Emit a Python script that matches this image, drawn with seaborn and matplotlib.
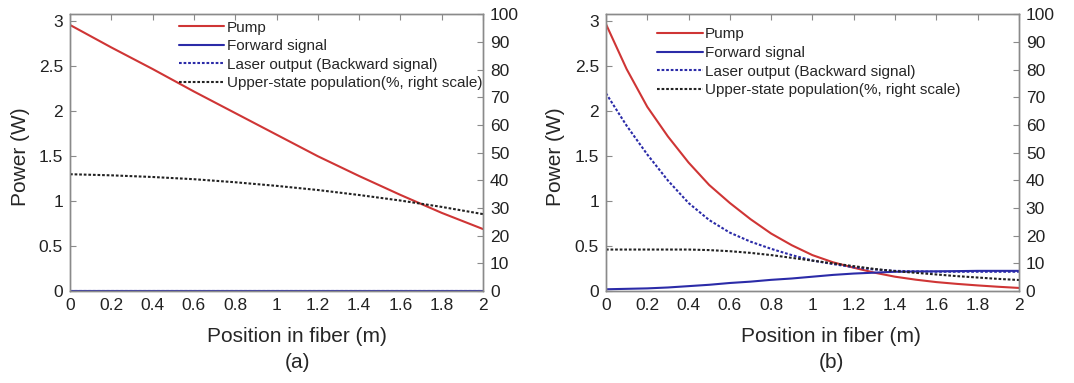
import matplotlib
matplotlib.use("Agg")
import matplotlib.pyplot as plt
import numpy as np
import pandas as pd
import seaborn as sns

# ---- data ----
pos_a = [0, 0.2, 0.4, 0.6, 0.8, 1.0, 1.2, 1.4, 1.6, 1.8, 2.0]
pump_a = [2.96, 2.71, 2.47, 2.22, 1.98, 1.74, 1.50, 1.28, 1.07, 0.87, 0.69]
forward_a = [0, 0, 0, 0, 0, 0, 0, 0, 0, 0, 0]
laser_a = [0, 0, 0, 0, 0, 0, 0, 0, 0, 0, 0]
upper_a = [42.2, 41.8, 41.2, 40.4, 39.3, 38.0, 36.5, 34.7, 32.7, 30.4, 27.8]

pos_b = [0, 0.1, 0.2, 0.3, 0.4, 0.5, 0.6, 0.7, 0.8, 0.9, 1.0,
         1.1, 1.2, 1.3, 1.4, 1.5, 1.6, 1.7, 1.8, 1.9, 2.0]
pump_b = [2.97, 2.47, 2.05, 1.72, 1.43, 1.18, 0.98, 0.80, 0.64, 0.51, 0.40,
          0.32, 0.26, 0.205, 0.16, 0.127, 0.10, 0.08, 0.063, 0.048, 0.035]
laser_b = [2.20, 1.84, 1.52, 1.23, 0.98, 0.79, 0.65, 0.55, 0.47, 0.40, 0.34,
           0.30, 0.265, 0.24, 0.225, 0.22, 0.215, 0.215, 0.215, 0.215, 0.215]
forward_b = [0.02, 0.025, 0.03, 0.04, 0.055, 0.07, 0.09, 0.105, 0.125, 0.14, 0.16,
             0.18, 0.195, 0.205, 0.215, 0.218, 0.22, 0.222, 0.225, 0.225, 0.225]
upper_b = [15.0, 15.0, 15.0, 15.0, 15.0, 14.8, 14.4, 13.8, 13.0, 12.0, 11.0,
           10.0, 9.0, 8.0, 7.2, 6.6, 6.0, 5.4, 4.9, 4.4, 4.0]

x_ticks = [0, 0.2, 0.4, 0.6, 0.8, 1, 1.2, 1.4, 1.6, 1.8, 2]
x_tick_labels = ["0", "0.2", "0.4", "0.6", "0.8", "1", "1.2", "1.4", "1.6", "1.8", "2"]
y_ticks = [0, 0.5, 1, 1.5, 2, 2.5, 3]
y_tick_labels = ["0", "0.5", "1", "1.5", "2", "2.5", "3"]
r_ticks = list(range(0, 101, 10))

labels = ["Pump", "Forward signal", "Laser output (Backward signal)",
          "Upper-state population(%, right scale)"]

RED = "#cf3535"
BLUE = "#2b2ba8"
BLACK = "#222222"
GRAY = "#8a8a8a"
DOT = (0, (1.3, 0.9))

sns.set_style("white")
plt.rcParams["font.family"] = ["Liberation Sans", "DejaVu Sans"]

fig = plt.figure(figsize=(10.74, 3.83), dpi=100)


def panel(left, pos, pump, forward, laser, upper, leg_x, leg_y, tag, lab_x):
    ax = fig.add_axes([left, 0.240, 0.3845, 0.723])
    ax2 = ax.twinx()

    sns.lineplot(x=pos, y=pump, ax=ax, color=RED, lw=1.5, label=labels[0], legend=False)
    sns.lineplot(x=pos, y=laser, ax=ax, color=BLUE, lw=1.5, linestyle=DOT,
                 label=labels[2], legend=False)
    sns.lineplot(x=pos, y=forward, ax=ax, color=BLUE, lw=1.5, label=labels[1], legend=False)
    sns.lineplot(x=pos, y=upper, ax=ax2, color=BLACK, lw=1.5, linestyle=DOT,
                 label=labels[3], legend=False)

    ax.set_xlim(0, 2)
    ax.set_ylim(0, 3.08)
    ax2.set_ylim(0, 100)
    ax.set_xticks(x_ticks)
    ax.set_xticklabels(x_tick_labels)
    ax.set_yticks(y_ticks)
    ax.set_yticklabels(y_tick_labels)
    ax2.set_yticks(r_ticks)
    ax.set_xlabel("")
    ax.set_ylabel("")
    ax2.set_ylabel("")

    for a in (ax, ax2):
        for s in a.spines.values():
            s.set_color(GRAY)
            s.set_linewidth(1.0)
    ax.tick_params(axis="both", direction="in", length=4, width=0.8, color=GRAY,
                   labelsize=12.5, labelcolor="#222222", top=True, pad=5)
    ax2.tick_params(axis="y", direction="in", length=4, width=0.8, color=GRAY,
                    labelsize=12.5, labelcolor="#222222", pad=5)

    h1, l1 = ax.get_legend_handles_labels()
    h2, l2 = ax2.get_legend_handles_labels()
    order = [labels.index(l) for l in l1 + l2]
    hs = [h for _, h in sorted(zip(order, h1 + h2), key=lambda t: t[0])]
    ls = [l for _, l in sorted(zip(order, l1 + l2), key=lambda t: t[0])]
    ax2.legend(hs, ls, loc="upper left", bbox_to_anchor=(leg_x, leg_y), frameon=False,
               fontsize=11, handlelength=3.0, handletextpad=0.15,
               labelspacing=0.3, borderaxespad=0, borderpad=0)

    fig.text(lab_x / 1074, 1 - 337 / 383, "Position in fiber (m)", ha="center",
             va="center", fontsize=15)
    fig.text(lab_x / 1074, 1 - 363 / 383, tag, ha="center", va="center", fontsize=15)
    fig.text((left * 1074 - 50) / 1074, 1 - 157 / 383, "Power (W)", ha="center",
             va="center", rotation=90, fontsize=15)


panel(0.0652, pos_a, pump_a, forward_a, laser_a, upper_a, 0.263, 0.977, "(a)", 297)
panel(0.5642, pos_b, pump_b, forward_b, laser_b, upper_b, 0.123, 0.952, "(b)", 831)

fig.savefig("out.png", dpi=100)
